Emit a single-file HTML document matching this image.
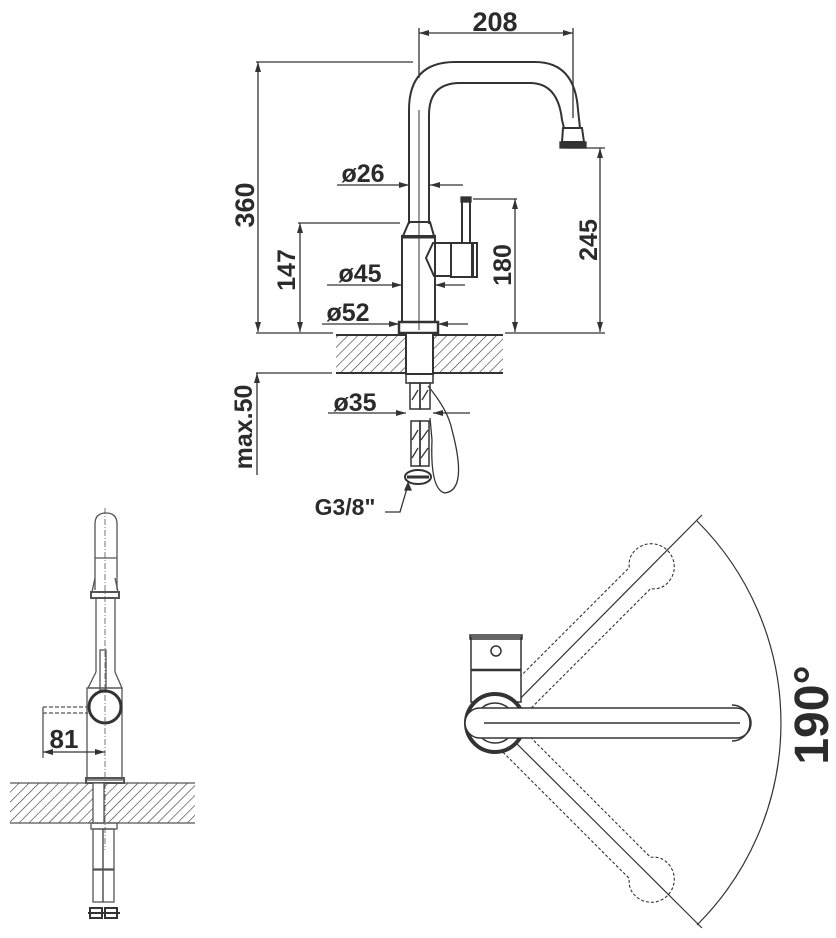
<!DOCTYPE html>
<html><head><style>
html,body{margin:0;padding:0;background:#fff;}
svg{display:block;}
text{font-family:"Liberation Sans",sans-serif;font-weight:bold;fill:#2b2b2b;}
</style></head><body>
<svg width="836" height="938" viewBox="0 0 836 938" xmlns="http://www.w3.org/2000/svg">
<defs>
<pattern id="h" width="7" height="7" patternUnits="userSpaceOnUse" patternTransform="rotate(45)">
<line x1="0" y1="0" x2="0" y2="7" stroke="#333" stroke-width="1.2"/>
</pattern>
<marker id="a" viewBox="0 0 10 6" refX="10" refY="3" markerWidth="10" markerHeight="6" orient="auto-start-reverse" markerUnits="userSpaceOnUse">
<path d="M0,0 L10,3 L0,6 z" fill="#333"/>
</marker>
</defs>
<g stroke="#333" fill="none" stroke-width="1.3">
<line x1="419" y1="33" x2="573" y2="33" marker-start="url(#a)" marker-end="url(#a)"/>
<line x1="419" y1="28" x2="419" y2="78"/>
<line x1="573" y1="28" x2="573" y2="118"/>
<line x1="256" y1="62" x2="413" y2="62"/>
<line x1="258" y1="62" x2="258" y2="332" marker-start="url(#a)" marker-end="url(#a)"/>
<path d="M409,224 L409,110 Q409,62 455,62 L535,62 Q575,62 578,110 L580,128" stroke-width="2"/>
<path d="M429,224 L429,115 Q429,83 460,83 L530,83 Q558,83 562,120 L564,128" stroke-width="2"/>
<path d="M563,128 L582,128 L584,142 L562,142 Z" stroke-width="2"/>
<rect x="560" y="142" width="26" height="6" fill="#333"/>
<line x1="419" y1="110" x2="419" y2="330" stroke-width="1"/>
<path d="M409,222 L430,222 L434,236 L403,236 Z" stroke-width="2"/>
<rect x="402" y="236" width="33" height="86" stroke-width="2"/>
<line x1="402" y1="237" x2="435" y2="237" stroke-width="3"/>
<rect x="399" y="322" width="39" height="11" stroke-width="2.5"/>
<path d="M433,243 L426,258 L434,276 L451,276 L451,243 Z" stroke-width="2"/>
<rect x="451" y="243" width="22" height="34" stroke-width="2"/>
<rect x="472" y="243" width="5" height="34" stroke-width="2"/>
<rect x="462" y="198" width="8" height="45" stroke-width="2"/>
<rect x="461" y="197" width="10" height="5" fill="#333"/>
<line x1="337" y1="185" x2="409" y2="185" marker-end="url(#a)"/>
<line x1="430" y1="185" x2="463" y2="185" marker-start="url(#a)"/>
<line x1="473" y1="199" x2="517" y2="199"/>
<line x1="515" y1="199" x2="515" y2="332" marker-start="url(#a)" marker-end="url(#a)"/>
<line x1="567" y1="148" x2="605" y2="148"/>
<line x1="600" y1="148" x2="600" y2="332" marker-start="url(#a)" marker-end="url(#a)"/>
<line x1="298" y1="223" x2="400" y2="223"/>
<line x1="300" y1="223" x2="300" y2="332" marker-start="url(#a)" marker-end="url(#a)"/>
<line x1="327" y1="285" x2="402" y2="285" marker-end="url(#a)"/>
<line x1="435" y1="285" x2="465" y2="285" marker-start="url(#a)"/>
<line x1="322" y1="324" x2="399" y2="324" marker-end="url(#a)"/>
<line x1="438" y1="324" x2="468" y2="324" marker-start="url(#a)"/>
<line x1="256" y1="333" x2="333" y2="333"/>
<line x1="505" y1="333" x2="605" y2="333"/>
<rect x="336" y="335" width="167" height="38" fill="url(#h)" stroke="none"/>
<line x1="336" y1="335" x2="503" y2="335" stroke-width="2"/>
<line x1="336" y1="373" x2="503" y2="373" stroke-width="2"/>
<rect x="406" y="333" width="27" height="41" fill="#fff" stroke-width="2"/>
<line x1="256" y1="373" x2="332" y2="373"/>
<line x1="257" y1="475" x2="257" y2="373" marker-end="url(#a)"/>
<rect x="406" y="374" width="27" height="9" stroke-width="1.5"/>
<rect x="410" y="383" width="10" height="26" stroke-width="1.5"/>
<rect x="420" y="383" width="10" height="26" stroke-width="1.5"/>
<path d="M412,400 L418,390 M422,400 L428,390" />
<line x1="328" y1="413" x2="406" y2="413" marker-end="url(#a)"/>
<line x1="433" y1="413" x2="470" y2="413" marker-start="url(#a)"/>
<rect x="411" y="421" width="9" height="45" stroke-width="1.5"/>
<rect x="420" y="421" width="9" height="45" stroke-width="1.5"/>
<path d="M412,440 L418,430 M421,440 L428,430 M412,458 L418,448 M421,458 L428,448"/>
<ellipse cx="418" cy="477" rx="13" ry="7" stroke-width="2"/>
<line x1="407" y1="477" x2="429" y2="477" stroke-width="3"/>
<path d="M428,386 Q448,410 452,430 Q468,490 445,493 Q430,490 432,440 L430,418"/>
<path d="M385,512 L400,512 L408,485"/>
<path d="M405,490 L408,483 L411,490 Z" fill="#333"/>
</g>
<text x="495" y="31" font-size="27" text-anchor="middle">208</text>
<text transform="translate(254,205) rotate(-90)" font-size="27" text-anchor="middle">360</text>
<text x="363" y="182" font-size="25" text-anchor="middle">ø26</text>
<text transform="translate(511,265) rotate(-90)" font-size="25" text-anchor="middle">180</text>
<text transform="translate(597,240) rotate(-90)" font-size="25" text-anchor="middle">245</text>
<text transform="translate(295,270) rotate(-90)" font-size="25" text-anchor="middle">147</text>
<text x="360" y="282" font-size="25" text-anchor="middle">ø45</text>
<text x="348" y="321" font-size="25" text-anchor="middle">ø52</text>
<text x="355" y="411" font-size="25" text-anchor="middle">ø35</text>
<text transform="translate(252,427) rotate(-90)" font-size="25" text-anchor="middle">max.50</text>
<text x="345" y="515" font-size="23" text-anchor="middle">G3/8"</text>

<g stroke="#555" fill="none" stroke-width="1.3">
<path d="M95,590 L95,524 Q95,513 106,513 Q117,513 117,524 L117,590"/>
<line x1="95" y1="558" x2="117" y2="558"/>
<path d="M95,578 L92,592 L118,592 L115,578" />
<rect x="91" y="592" width="28" height="6" stroke-width="2"/>
<line x1="96" y1="598" x2="96" y2="672"/><line x1="115" y1="598" x2="115" y2="672"/>
<path d="M96,672 L88,688 L122,688 L115,672"/>
<rect x="87" y="688" width="35" height="92"/>
<rect x="100" y="650" width="6" height="40"/>
<circle cx="105" cy="707" r="16" stroke="#333" stroke-width="3"/>
<line x1="105" y1="508" x2="105" y2="850" stroke-dasharray="6,2,1,2" stroke-width="0.8"/>
<path d="M43,707 L88,707 M43,713 L88,713" stroke-dasharray="4,2"/>
<line x1="43" y1="707" x2="43" y2="758"/>
<line x1="43" y1="752" x2="105" y2="752" stroke="#333" marker-start="url(#a)" marker-end="url(#a)"/>
<rect x="86" y="778" width="38" height="5" stroke-width="2"/>
<rect x="10" y="783" width="185" height="40" fill="url(#h)" stroke="none"/>
<line x1="10" y1="783" x2="195" y2="783"/><line x1="10" y1="823" x2="195" y2="823"/>
<rect x="93" y="783" width="11" height="40" fill="#fff"/>
<rect x="91" y="823" width="26" height="6"/>
<rect x="93" y="829" width="10" height="40"/><rect x="103" y="829" width="11" height="40"/>
<rect x="93" y="870" width="10" height="32"/><rect x="103" y="870" width="11" height="32"/>
<rect x="90" y="908" width="12" height="10" stroke="#333" stroke-width="2"/>
<rect x="105" y="908" width="12" height="10" stroke="#333" stroke-width="2"/>
<line x1="88" y1="913" x2="120" y2="913" stroke="#333" stroke-width="2"/>
</g>
<text x="64" y="748" font-size="26" text-anchor="middle">81</text>

<g stroke="#333" fill="none" stroke-width="1.5">
<path d="M702,515 L496,723 L702,928" stroke-width="1.2"/>
<path d="M697,521 A285,285 0 0 1 697,925" stroke-width="1.2"/>
<g stroke-dasharray="3,2" stroke-width="1.1">
<path transform="rotate(-45 495 723)" d="M505,708 L700,708 Q706,700 716,700 A23,23 0 0 1 716,746 Q706,746 700,738 L505,738"/>
<path transform="rotate(45 495 723)" d="M505,708 L700,708 Q706,700 716,700 A23,23 0 0 1 716,746 Q706,746 700,738 L505,738"/>
</g>
<rect x="471" y="637" width="50" height="65" fill="#fff"/>
<rect x="470" y="635" width="52" height="4" />
<line x1="471" y1="670" x2="521" y2="670" stroke-width="2.5"/>
<circle cx="496" cy="651" r="5"/>
<circle cx="495" cy="723" r="29" fill="#fff" stroke-width="4"/>
<circle cx="495" cy="723" r="20"/>
<path d="M480,708 L736,708 A15,15 0 0 1 736,738 L480,738 A15,15 0 0 1 480,708 Z" fill="#fff"/>
<line x1="484" y1="723" x2="740" y2="723"/>
<path d="M732,705 A18,18 0 0 1 732,741"/>
</g>
<text transform="translate(828,715) rotate(-90)" font-size="48" text-anchor="middle">190°</text>
</svg>
</body></html>
